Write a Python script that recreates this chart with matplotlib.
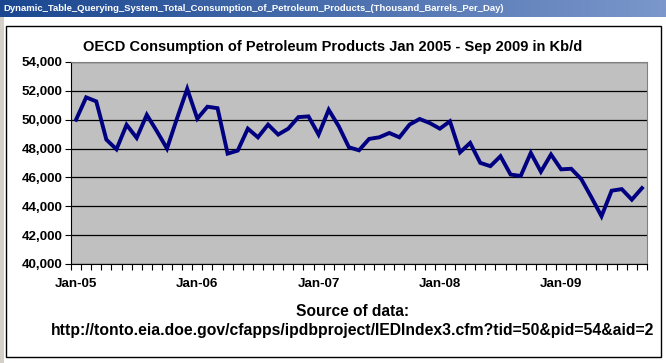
import numpy as np
import matplotlib
matplotlib.use("Agg")
import matplotlib.pyplot as plt
from matplotlib.patches import Rectangle

# monthly OECD consumption, Kb/d
y2005 = [50000, 51550, 51270, 48620, 47950, 49650, 48740, 50340, 49200, 48000, 50110, 52140]
y2006 = [50070, 50900, 50800, 47650, 47860, 49380, 48780, 49660, 48970, 49380, 50180, 50230]
y2007 = [48970, 50690, 49540, 48090, 47880, 48670, 48780, 49080, 48780, 49660, 50050, 49770]
y2008 = [49380, 49890, 47740, 48390, 47010, 46780, 47470, 46200, 46100, 47700, 46400, 47590]
y2009 = [46560, 46600, 45880, 44620, 43310, 45080, 45190, 44460, 45260]
values = y2005 + y2006 + y2007 + y2008 + y2009

year_labels = ["Jan-05", "Jan-06", "Jan-07", "Jan-08", "Jan-09"]
y_ticks = [40000, 42000, 44000, 46000, 48000, 50000, 52000, 54000]

window_title = "Dynamic_Table_Querying_System_Total_Consumption_of_Petroleum_Products_(Thousand_Barrels_Per_Day)"
chart_title = "OECD Consumption of Petroleum Products Jan 2005 - Sep 2009 in Kb/d"
source_url = "http://tonto.eia.doe.gov/cfapps/ipdbproject/IEDIndex3.cfm?tid=50&pid=54&aid=2"

W, H = 666, 363
fig = plt.figure(figsize=(W / 100, H / 100), dpi=100)
fig.patch.set_facecolor("white")

# background layer in pixel coords: title bar, window frame, chart border
bg = fig.add_axes([0, 0, 1, 1], zorder=0)
bg.set_xlim(0, W)
bg.set_ylim(H, 0)
bg.axis("off")
grad = np.linspace(0, 1, 256)[None, :]
cmap = matplotlib.colors.LinearSegmentedColormap.from_list("bar", ["#1a4790", "#7b97cb"])
bg.imshow(grad, cmap=cmap, extent=[0, W, 17, 0], aspect="auto")
bg.text(3, 8.5, window_title, color="white", fontsize=6.8, fontweight="bold",
        family="Liberation Sans", va="center", ha="left")
bg.add_patch(Rectangle((0, 17), 4, H - 17, facecolor="#d4d0c8", edgecolor="none"))
bg.add_patch(Rectangle((5.5, 25.5), 655, 331, facecolor="none", edgecolor="black", lw=1))

# chart
ax = fig.add_axes([71 / W, 1 - 264 / H, (647 - 71) / W, (264 - 62) / H], zorder=1)
ax.set_facecolor("#c0c0c0")
x = np.arange(len(values))
ax.plot(x, values, color="#000080", lw=2.8, solid_joinstyle="miter", zorder=3)

ax.set_xlim(-0.5, len(values) - 0.5)
ax.set_ylim(40000, 54000)
ax.set_yticks(y_ticks)
ax.set_yticklabels([f"{v:,}" for v in y_ticks])
ax.yaxis.grid(True, color="black", lw=0.9)
ax.set_axisbelow(True)

ax.set_xticks(np.arange(-0.5, len(values), 1))
ax.set_xticklabels([])
ax.set_xticks(np.arange(0, len(values), 12), minor=True)
ax.set_xticklabels(year_labels, minor=True)
ax.tick_params(axis="x", which="major", length=4, width=0.8, direction="out")
ax.tick_params(axis="x", which="minor", length=0, pad=10)
ax.tick_params(axis="y", length=4, width=0.8, direction="out", pad=2)
for lab in ax.get_xticklabels(minor=True) + ax.get_yticklabels():
    lab.set_fontfamily("Liberation Sans")
    lab.set_fontweight("bold")
    lab.set_fontsize(9.6)

for side in ["top", "right"]:
    ax.spines[side].set_color("#808080")
ax.spines["left"].set_color("black")
ax.spines["bottom"].set_color("black")

fig.text(333 / W, 1 - 47 / H, chart_title, ha="center", va="center",
         fontsize=10.5, fontweight="bold", family="Liberation Sans")
fig.text(353 / W, 1 - 311 / H, "Source of data:", ha="center", va="center",
         fontsize=11.2, fontweight="bold", family="Liberation Sans")
fig.text(353 / W, 1 - 331 / H, source_url, ha="center", va="center",
         fontsize=11.3, fontweight="bold", family="Liberation Sans")

fig.savefig("out.png", dpi=100)
